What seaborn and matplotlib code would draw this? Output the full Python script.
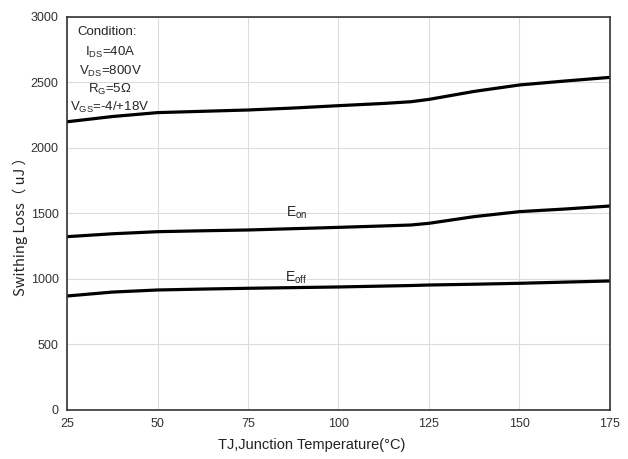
import matplotlib
matplotlib.use("Agg")
import matplotlib.pyplot as plt
import seaborn as sns
import pandas as pd

temps = [25, 37.5, 50, 62.5, 75, 87.5, 100, 112.5, 120, 125, 137.5, 150, 162.5, 175]
etotal = [2200, 2240, 2270, 2280, 2290, 2305, 2323, 2340, 2353, 2371, 2432, 2481, 2511, 2539]
eon = [1323, 1345, 1361, 1368, 1374, 1384, 1394, 1405, 1412, 1425, 1476, 1514, 1534, 1557]
eoff = [870, 900, 916, 923, 929, 934, 939, 946, 950, 954, 960, 967, 976, 985]

xticks = [25, 50, 75, 100, 125, 150, 175]
yticks = [0, 500, 1000, 1500, 2000, 2500, 3000]
cond_lines = ["Condition:", "I$_{DS}$=40A", "V$_{DS}$=800V", "R$_G$=5Ω", "V$_{GS}$=-4/+18V"]

df = pd.concat([
    pd.DataFrame({"T": temps, "E": etotal, "s": "Etotal"}),
    pd.DataFrame({"T": temps, "E": eon, "s": "Eon"}),
    pd.DataFrame({"T": temps, "E": eoff, "s": "Eoff"}),
])

sns.set_style("white")
plt.rcParams["font.family"] = ["Liberation Sans", "DejaVu Sans"]
plt.rcParams["mathtext.default"] = "regular"

fig = plt.figure(figsize=(6.28, 4.59), dpi=100)
ax = fig.add_axes([0.1067, 0.1068, 0.8646, 0.8562])
sns.lineplot(data=df, x="T", y="E", units="s", estimator=None, color="black",
             linewidth=2.3, ax=ax, legend=False)

ax.set_xlim(25, 175)
ax.set_ylim(0, 3000)
ax.set_xticks(xticks)
ax.set_yticks(yticks)
ax.grid(True, color="#dcdcdc", linewidth=0.8)
ax.set_axisbelow(True)
for sp in ax.spines.values():
    sp.set_color("#333333")
    sp.set_linewidth(1.2)
ax.tick_params(axis="both", labelsize=9, length=0, pad=6, labelcolor="#333333")
ax.set_xlabel("TJ,Junction Temperature(°C)", fontsize=10.5, color="#222222")
ax.xaxis.set_label_coords(0.451, -0.072)
ax.set_ylabel("Swithing Loss（ uJ ）", fontsize=10.5, family=["Noto Sans CJK SC", "DejaVu Sans"],
              color="#222222")
ax.yaxis.set_label_coords(-0.072, 0.476)

ax.text(88.5, 1505, "E$_{on}$", fontsize=10, ha="center", va="center")
ax.text(88.3, 1010, "E$_{off}$", fontsize=10, ha="center", va="center")

ax.text(28.0, 2885, cond_lines[0], fontsize=9.5, ha="left", va="center")
ycs = [2733, 2588, 2450, 2313]
for t, yc in zip(cond_lines[1:], ycs):
    ax.text(36.9, yc, t, fontsize=9.5, ha="center", va="center")

fig.savefig("out.png", dpi=100)
